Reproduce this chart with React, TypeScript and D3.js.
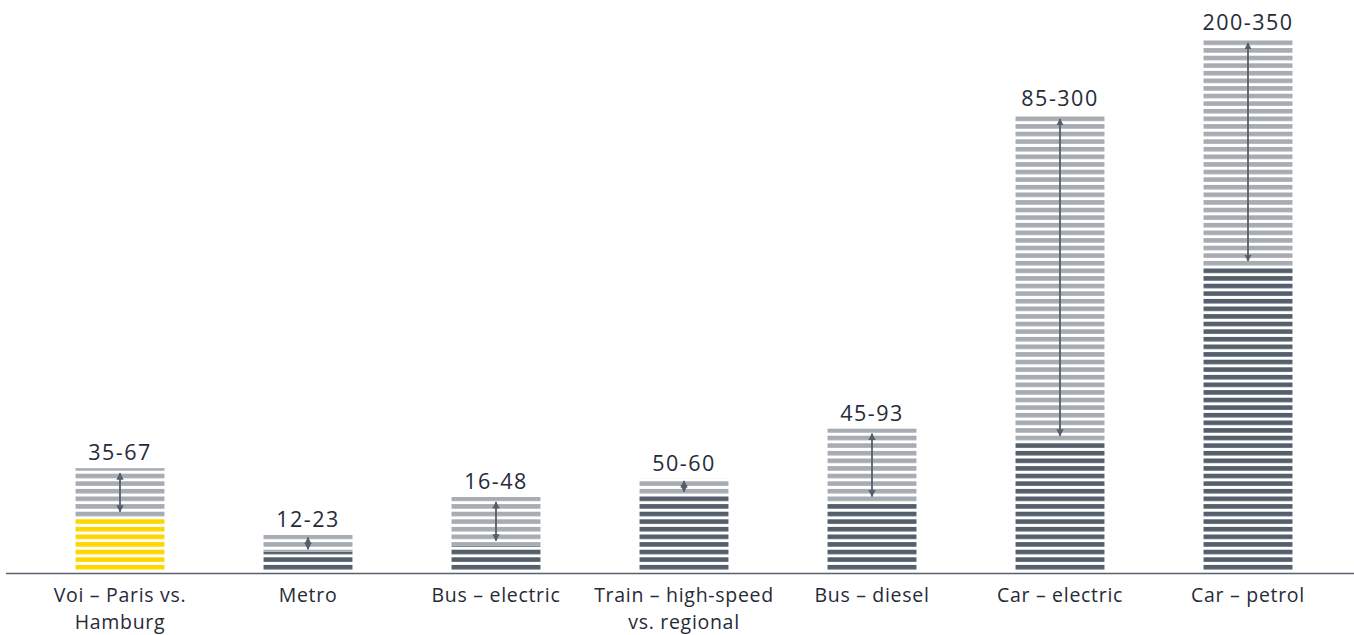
import React from "react";
import * as d3 from "d3";

const categories = [
  ["Voi – Paris vs.", "Hamburg"],
  ["Metro"],
  ["Bus – electric"],
  ["Train – high-speed", "vs. regional"],
  ["Bus – diesel"],
  ["Car – electric"],
  ["Car – petrol"],
];
const lowValues = [35, 12, 16, 50, 45, 85, 200];
const highValues = [67, 23, 48, 60, 93, 300, 350];
const rangeLabels = ["35-67", "12-23", "16-48", "50-60", "45-93", "85-300", "200-350"];
const highlight = [true, false, false, false, false, false, false];

const W = 1354;
const H = 635;
const BASE = 570;
const TOP = 38;
const PITCH = 7.6;
const STRIPE = 4.6;
const FONT = "'Open Sans', sans-serif";
const TEXT = "#262b38";
const DARK = "#545f6b";
const GREY = "#a6acb1";
const YELLOW = "#ffd700";

export default function App() {
  const idx = categories.map((_, i) => String(i));
  const x = d3
    .scaleBand<string>()
    .domain(idx)
    .range([26, 1342])
    .paddingInner(0.527)
    .paddingOuter(0.2635);
  const y = d3.scaleLinear().domain([0, 350]).range([BASE, TOP]);
  const bw = x.bandwidth();
  const patternY = 569.5 - STRIPE;

  const pat = (id: string, color: string) => (
    <pattern
      id={id}
      patternUnits="userSpaceOnUse"
      x={0}
      y={patternY}
      width={W}
      height={PITCH}
    >
      <rect x={0} y={0} width={W} height={STRIPE} fill={color} />
    </pattern>
  );

  return (
    <svg
      width={W}
      height={H}
      style={{ position: "absolute", left: 0, top: 0 }}
      fontFamily={FONT}
    >
      <defs>
        {pat("pDark", DARK)}
        {pat("pGrey", GREY)}
        {pat("pYellow", YELLOW)}
        <marker
          id="ah"
          viewBox="0 0 10 10"
          refX={9}
          refY={5}
          markerWidth={4}
          markerHeight={4}
          orient="auto-start-reverse"
        >
          <path d="M0,0 L10,5 L0,10 z" fill={DARK} />
        </marker>
      </defs>
      {idx.map((k, i) => {
        const x0 = x(k)!;
        const cx = x0 + bw / 2;
        const yl = y(lowValues[i]);
        const yh = y(highValues[i]);
        const span = yl - yh;
        const inset = Math.min(5, span * 0.15);
        return (
          <g key={k}>
            <rect
              x={x0}
              y={yl}
              width={bw}
              height={BASE - yl}
              fill={highlight[i] ? "url(#pYellow)" : "url(#pDark)"}
            />
            <rect x={x0} y={yh} width={bw} height={yl - yh} fill="url(#pGrey)" />
            <line
              x1={cx}
              x2={cx}
              y1={yh + inset}
              y2={yl - inset}
              stroke={DARK}
              strokeWidth={1.8}
              markerStart="url(#ah)"
              markerEnd="url(#ah)"
            />
            <text
              x={cx}
              y={yh - 8}
              textAnchor="middle"
              fontSize={21.5}
              letterSpacing={1.5}
              fill={TEXT}
            >
              {rangeLabels[i]}
            </text>
            {categories[i].map((line, j) => (
              <text
                key={j}
                x={cx}
                y={602.3 + j * 26.8}
                textAnchor="middle"
                fontSize={19.5}
                letterSpacing={0.7}
                fill={TEXT}
              >
                {line}
              </text>
            ))}
          </g>
        );
      })}
      <line x1={6} x2={W} y1={573.5} y2={573.5} stroke="#5a616b" strokeWidth={1.6} />
    </svg>
  );
}
